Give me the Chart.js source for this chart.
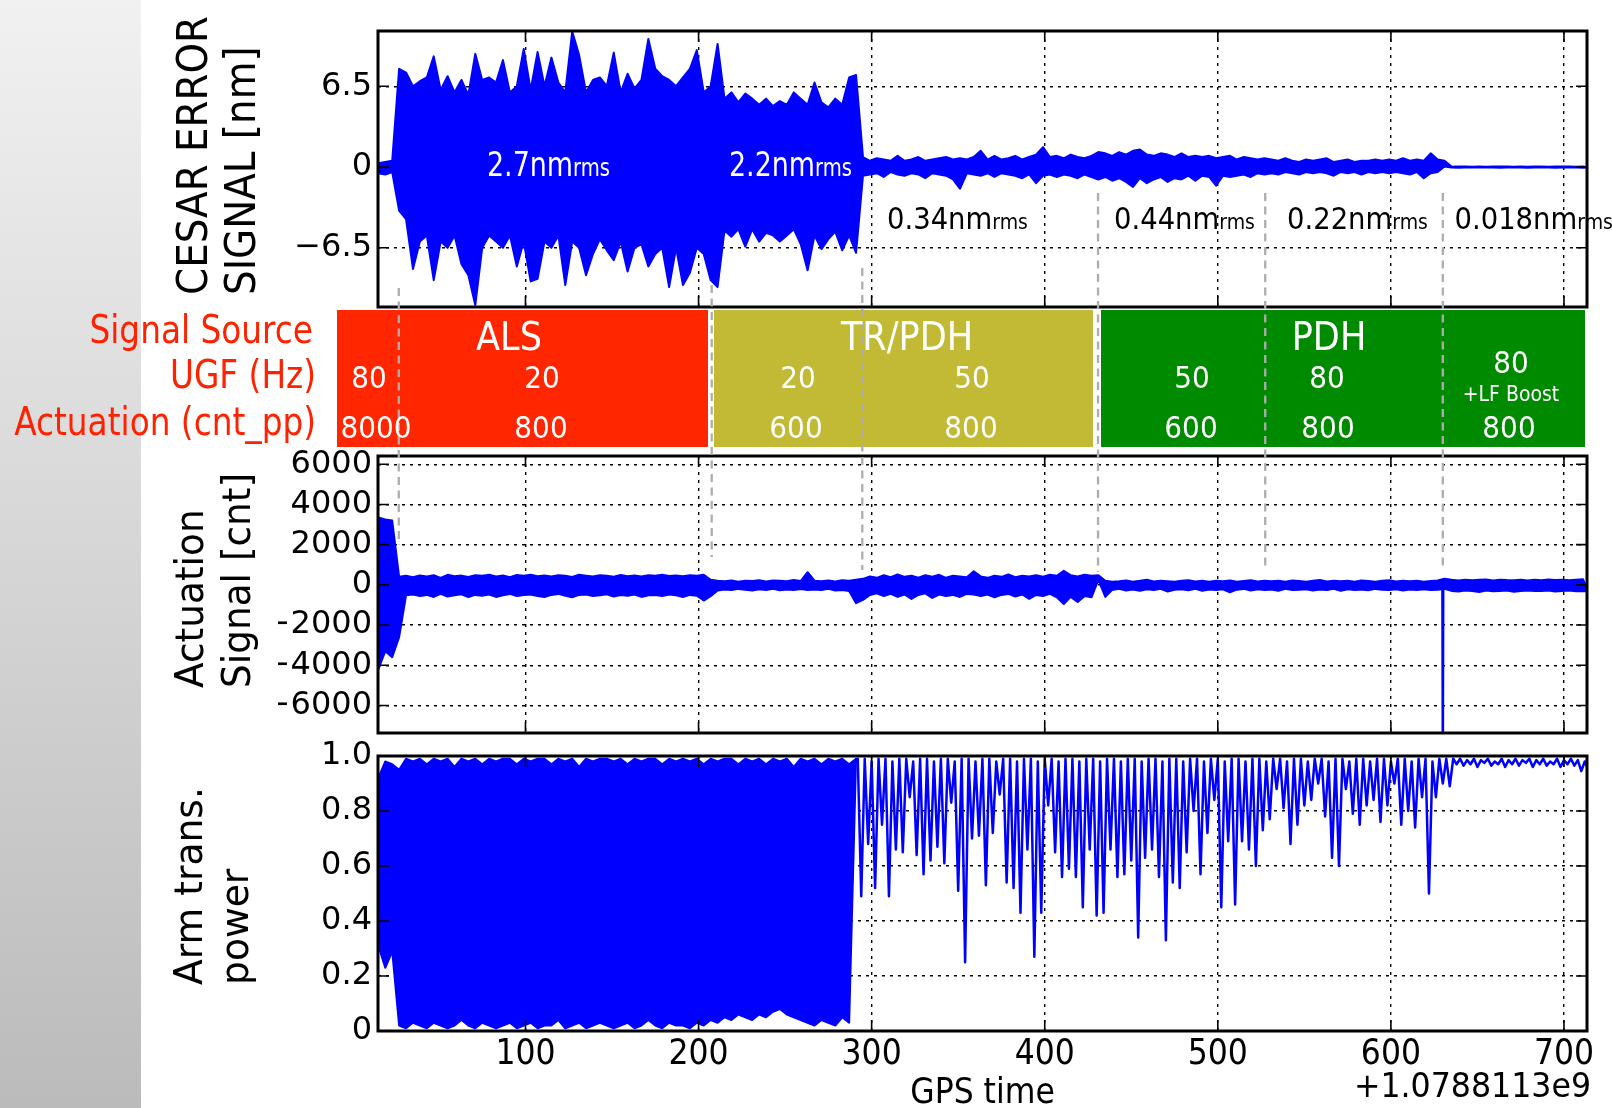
<!DOCTYPE html>
<html><head><meta charset="utf-8">
<script src="https://cdn.jsdelivr.net/npm/chart.js@4"></script>
<style>
html,body{margin:0;padding:0;background:#fff;}
#wrap{position:relative;width:1612px;height:1108px;overflow:hidden;background:#fff;}
#strip{position:absolute;left:0;top:0;width:141px;height:1108px;background:linear-gradient(#f1f1f1,#bbbbbb);}
canvas{position:absolute;left:0;top:0;}
</style></head><body>
<div id="wrap"><div id="strip"></div>
<canvas id="c1" width="1612" height="1108"></canvas>
<canvas id="c2" width="1612" height="1108"></canvas>
<canvas id="c3" width="1612" height="1108"></canvas>
<canvas id="ov" width="1612" height="1108"></canvas>
</div>
<script>
// ---------------- data (GPS time relative to 1.0788113e9, sampled every 2 s from t=14) ----------------
const T0 = 14, DT = 2;
const timeTicks = [100, 200, 300, 400, 500, 600, 700];
const errTicks = [-6.5, 0, 6.5];
const actTicks = [-6000, -4000, -2000, 0, 2000, 4000, 6000];
const powTicks = [0, 0.2, 0.4, 0.6, 0.8, 1.0];

// CESAR error signal [nm]
const errSignal = [
  0.3,-0.5,0.4,-0.6,0.5,-0.4,
  -3.5,7.9,-4.2,7.6,-8.2,6.5,-6.0,6.9,-5.5,7.2,
  -9.1,8.9,-6.0,6.2,-6.5,7.3,-5.5,6.0,-7.8,7.0,
  -8.7,5.8,-11.1,9.1,-6.5,7.0,-5.5,7.2,-6.0,6.8,
  -6.5,8.6,-5.5,6.0,-8.0,6.5,-6.0,9.5,-9.2,6.2,
  -9.0,9.25,-6.0,6.5,-6.5,8.8,-5.5,6.8,-9.5,6.0,
  -6.0,10.9,-6.5,9.0,-8.7,6.0,-7.0,7.0,-5.8,7.2,
  -6.7,6.5,-7.5,9.2,-6.0,6.0,-8.4,7.5,-6.5,6.3,
  -6.2,7.0,-8.0,10.3,-7.0,7.9,-6.5,7.3,-9.65,7.0,
  -6.5,6.5,-9.5,7.2,-8.5,7.9,-6.5,9.4,-7.0,6.0,
  -9.1,
  6.5,9.9,-9.65,5.5,-5.1,6.0,-5.6,5.2,-5.0,5.9,
  -6.4,5.5,-5.0,5.0,-6.0,5.5,-5.3,4.9,-5.5,5.3,
  -6.0,5.0,-5.5,6.0,-5.0,5.5,-6.2,5.0,-8.3,6.8,
  -5.5,5.2,-6.6,4.8,-5.8,5.5,-5.2,5.0,-6.7,7.2,
  -5.5,7.4,-6.9,
  0.8,-0.7,0.5,-0.6,0.7,-0.5,0.6,-0.8,0.5,-0.4,
  0.9,-0.6,0.5,-0.7,0.6,-0.5,0.8,-0.6,0.5,-0.9,
  0.6,-0.5,0.7,-0.6,0.8,-0.7,0.6,-1.0,0.7,-1.75,
  0.6,-0.5,0.8,-0.6,1.3,-0.7,0.6,-0.5,0.9,-0.8,
  0.6,-0.5,0.7,-0.6,0.9,-0.7,0.6,-0.9,0.8,-0.6,
  1.0,-1.3,1.6,-0.7,0.8,-0.6,0.9,-0.8,0.7,-0.6,
  1.0,-0.7,0.8,-0.9,0.7,-0.6,0.9,-0.8,1.2,
  -1.0,1.1,-0.8,0.9,-1.1,1.2,-0.9,1.0,-1.2,1.3,
  -1.6,1.4,-0.9,1.0,-1.3,0.9,-1.0,1.1,-0.8,1.0,
  -1.2,0.8,-0.9,1.1,-1.0,0.8,-0.7,0.9,-1.1,0.8,
  -0.7,0.9,-0.8,0.7,-1.5,0.8,-0.7,0.9,-0.8,0.6,
  -0.7,0.8,-0.6,0.7,-0.8,0.6,-0.5,0.7,
  -0.6,0.6,-0.5,0.5,-0.6,0.7,-0.4,0.5,-0.5,0.4,
  -0.6,0.6,-0.4,0.5,-0.5,0.6,-0.4,0.7,-0.5,0.4,
  -0.7,0.5,-0.4,0.6,-0.5,0.4,-0.4,0.5,-0.6,0.5,
  -0.4,0.6,-0.5,0.5,-0.4,0.6,-0.5,0.5,-0.4,0.7,
  -0.5,0.5,-0.6,0.6,-0.4,0.5,-0.9,1.1,-0.5,0.6,
  -0.4,0.5,
  0.04,-0.04,0.03,-0.05,0.05,-0.03,0.04,-0.04,0.03,-0.04,
  0.05,-0.04,0.03,-0.03,0.04,-0.05,0.04,-0.03,0.05,-0.04,
  0.03,-0.04,0.04,-0.05,0.03,-0.03,0.05,-0.04,0.04,-0.03,
  0.03,-0.05,0.04,-0.04,0.05,-0.03,0.04,-0.04,0.03,-0.05,
  0.04,-0.04
];

// Actuation signal [cnt]
const actSignal = [
  3350,-4200,3250,-3300,3200,-3600,-2600,
  400,-520,450,-480,380,-560,470,-500,420,-600,
  480,-450,350,-580,500,-520,430,-470,460,-610,
  390,-500,480,-540,450,-480,500,-600,420,-520,
  470,-450,380,-560,490,-510,450,-480,500,-550,
  430,-600,470,-500,420,-450,480,-540,450,-620,
  390,-500,500,-480,460,-560,420,-520,480,-470,
  450,-580,400,-500,490,-540,430,-480,470,-600,
  420,-520,480,-500,450,-560,500,-480,440,-520,
  470,-600,430,-500,480,-540,450,-780,500,-560,
  250,-280,200,-230,180,-260,220,-200,150,-240,
  210,-280,190,-220,230,-250,170,-200,220,-270,
  200,-230,180,-260,240,-210,190,630,-250,210,
  -230,180,-260,220,-200,170,-280,230,-250,200,
  -300,250,-910,
  300,-750,420,-500,350,-420,480,-560,380,-450,
  520,-600,400,-480,450,-700,360,-500,480,-420,
  400,-650,500,-480,350,-560,450,-500,420,-600,
  380,-450,-480,680,-550,420,-480,350,-620,460,
  -500,400,-450,520,-580,380,-480,450,-700,420,
  -500,480,-560,400,-450,500,-620,450,700,-950,
  480,-600,420,-850,500,-560,450,-620,480,
  250,-600,200,-250,150,-200,180,-280,220,-230,
  160,-300,200,-220,250,-260,170,-200,210,-330,
  180,-240,150,-220,200,-270,230,-200,170,-300,
  210,-230,160,-260,200,-220,180,-370,220,-240,
  150,-200,190,-280,230,-220,170,-250,200,-230,
  180,-300,210,-200,160,-260,220,-240,190,-220,
  150,-280,200,-230,240,-260,170,-200,200,-300,
  180,-220,210,-250,160,-230,220,-270,190,-200,
  150,-240,200,-260,230,-220,170,-280,210,-230,
  180,-250,200,-220,150,-260,190,-240,220,-200,
  300,-300,250,-330,220,-280,260,-300,230,-350,
  250,-280,270,-320,220,-300,260,-280,240,-340,
  230,-300,260,-280,220,-310,250,-300,230,-280,
  270,-330,240,-300,250,-280,230,-320,260,-300,
  280,-330
];
// single actuation glitch near t = 630 s
const glitchTime = [629.8, 630.0, 630.2];
const glitchAct = [-150, -7400, -150];

// Arm transmitted power (normalised)
const powSignal = [
  0.92,0.31,0.98,0.23,0.97,0.29,0.95,
  0.02,0.99,0.01,0.98,0.03,0.99,0.02,0.97,0.01,0.99,
  0.03,0.98,0.02,0.99,0.01,0.96,0.02,0.99,0.04,0.98,
  0.02,0.99,0.01,0.97,0.03,0.99,0.02,0.98,0.01,0.99,
  0.02,0.99,0.03,0.97,0.01,0.99,0.02,0.98,0.03,0.99,
  0.01,0.99,0.02,0.97,0.02,0.99,0.04,0.98,0.01,0.99,
  0.02,0.96,0.03,0.99,0.01,0.98,0.02,0.99,0.03,0.99,
  0.02,0.98,0.01,0.99,0.02,0.97,0.03,0.99,0.01,0.98,
  0.02,0.99,0.04,0.99,0.02,0.97,0.01,0.99,0.03,0.98,
  0.02,0.99,0.02,0.98,0.01,0.99,0.03,0.97,0.02,0.99,
  0.04,0.98,0.03,0.99,0.05,0.99,0.04,0.97,0.06,0.99,
  0.05,0.98,0.04,0.99,0.06,0.97,0.05,0.99,0.07,0.98,
  0.08,0.99,0.06,0.96,0.05,0.99,0.04,0.98,0.03,0.99,
  0.02,0.97,0.04,0.99,0.03,0.98,0.02,0.99,0.05,0.97,
  0.03,0.99,
  0.99,0.49,0.99,0.68,0.98,0.52,0.99,0.75,0.99,0.49,
  0.98,0.66,0.99,0.65,0.99,0.85,0.98,0.64,0.99,0.57,
  0.99,0.62,0.98,0.67,0.99,0.61,0.99,0.83,0.98,0.51,
  0.99,0.25,0.99,0.70,0.98,0.71,0.99,0.53,0.99,0.72,
  0.98,0.86,0.99,0.54,0.99,0.52,0.98,0.43,0.99,0.66,
  0.99,0.27,0.98,0.43,0.99,0.82,0.99,0.65,0.98,0.56,
  0.99,0.59,0.99,0.56,0.98,0.45,0.99,0.66,0.99,0.42,
  0.98,0.43,0.99,0.66,0.99,0.56,0.98,0.57,0.99,0.62,
  0.99,0.34,0.98,0.63,0.99,0.66,0.99,0.56,0.98,0.33,
  0.99,0.54,0.99,0.52,0.98,0.65,0.99,0.80,0.99,0.57,
  0.98,0.72,0.99,0.84,0.99,0.45,0.98,0.69,0.99,0.46,
  0.99,0.69,0.98,0.66,0.99,0.60,0.99,0.73,0.98,0.77,
  0.99,0.88,0.99,0.81,0.98,0.68,0.99,0.75,0.99,0.82,
  0.98,0.84,0.99,0.90,0.99,0.78,0.98,0.63,0.99,0.60,
  0.99,0.88,0.98,0.79,0.99,0.75,0.99,0.82,0.98,0.84,
  0.99,0.76,0.99,0.82,0.98,0.90,0.99,0.75,0.99,0.80,
  0.98,0.74,0.99,0.85,0.99,0.50,0.98,0.85,0.99,0.90,
  0.99,0.89,0.99,
  0.97,0.99,0.965,0.985,0.97,0.99,0.96,0.985,0.975,0.99,
  0.965,0.98,0.97,0.99,0.96,0.985,0.97,0.99,0.965,0.985,
  0.975,0.99,0.96,0.985,0.97,0.99,0.965,0.98,0.97,0.99,
  0.96,0.985,0.97,0.99,0.965,0.985,0.945,0.98,0.95
];
// index (in the 2 s sampling) where the arm locks and power stops swinging 0..1
const powLockIndex = 139;

// lock phase boundaries (s) and annotation texts
const phaseTimes = [26.8, 207.6, 294.6, 430.8, 527.4, 630.0];
const rmsLabels = ['2.7nm', '2.2nm', '0.34nm', '0.44nm', '0.22nm', '0.018nm'];
const rowLabels = ['Signal Source', 'UGF (Hz)', 'Actuation (cnt_pp)'];
const sourceNames = ['ALS', 'TR/PDH', 'PDH'];
const ugfValues = ['80', '20', '20', '50', '50', '80', '80'];
const actuationValues = ['8000', '800', '600', '800', '600', '800', '800'];

// ---------------- layout ----------------
const W = 1612, H = 1108;
const LEFT = 378, RIGHT = 1587, YAXW = 100;
const X_MIN = 14.8, X_MAX = 713.3;
const COND = "'DejaVu Sans Condensed', 'DejaVu Sans', sans-serif";
const BLUE = '#0000ff';

const pts = (vals, s, e) => vals.slice(s, e).map((v, i) => ({x: T0 + DT * (i + s), y: v}));
// per-4 s min/max envelope of the sampled values (dense noise is drawn as a filled band)
function envelope(vals, s, e) {
  const up = [], lo = [];
  for (let i = s; i < e; i += 2) {
    const has2 = i + 1 < e;
    const a = vals[i], b = has2 ? vals[i + 1] : vals[i];
    const t = T0 + DT * (has2 ? i + 0.5 : i);
    up.push({x: t, y: Math.max(a, b)});
    lo.push({x: t, y: Math.min(a, b)});
  }
  return {up, lo};
}
const minus = s => s.replace('-', '\u2212');

const framePlugin = {
  id: 'frame',
  afterDraw(chart) {
    const {ctx, chartArea: a, scales: {x, y}} = chart;
    ctx.save();
    ctx.strokeStyle = '#000';
    ctx.lineWidth = 1.6;
    ctx.setLineDash([]);
    ctx.beginPath();
    x.ticks.forEach(t => {
      const px = x.getPixelForValue(t.value);
      ctx.moveTo(px, a.bottom); ctx.lineTo(px, a.bottom - 11);
      ctx.moveTo(px, a.top); ctx.lineTo(px, a.top + 11);
    });
    y.ticks.forEach(t => {
      const py = y.getPixelForValue(t.value);
      ctx.moveTo(a.left, py); ctx.lineTo(a.left + 11, py);
      ctx.moveTo(a.right, py); ctx.lineTo(a.right - 11, py);
    });
    ctx.stroke();
    ctx.lineWidth = 3;
    ctx.strokeRect(a.left, a.top, a.right - a.left, a.bottom - a.top);
    ctx.restore();
  }
};

function makeChart(id, datasets, area, yMin, yMax, yTicks, fmt, showX) {
  const xh = showX ? (H - area.bottom) : 0;
  return new Chart(document.getElementById(id), {
    type: 'line',
    data: {datasets},
    options: {
      responsive: false, animation: false, devicePixelRatio: 1, events: [],
      layout: {padding: {left: LEFT - YAXW, right: W - RIGHT, top: area.top, bottom: H - area.bottom - xh}},
      plugins: {legend: {display: false}, tooltip: {enabled: false}},
      elements: {point: {radius: 0}, line: {tension: 0}},
      scales: {
        x: {
          type: 'linear', min: X_MIN, max: X_MAX,
          afterBuildTicks: s => { s.ticks = timeTicks.map(v => ({value: v})); },
          afterFit: s => { s.height = xh; },
          grid: {color: '#000', lineWidth: 1.4, drawTicks: false},
          border: {display: false, dash: [3, 5]},
          ticks: {display: showX, color: '#000', font: {family: COND, size: 35}, padding: 3, maxRotation: 0, autoSkip: false},
          title: {display: showX, text: 'GPS time', color: '#000', font: {family: COND, size: 35, lineHeight: 0.8}, padding: {top: 0, bottom: 0}}
        },
        y: {
          min: yMin, max: yMax,
          afterBuildTicks: s => { s.ticks = yTicks.map(v => ({value: v})); },
          afterFit: s => { s.width = YAXW; },
          grid: {color: '#000', lineWidth: 1.4, drawTicks: false},
          border: {display: false, dash: [3, 5]},
          ticks: {color: '#000', font: {family: 'DejaVu Sans', size: 32}, padding: 6, callback: fmt, autoSkip: false}
        }
      }
    },
    plugins: [framePlugin]
  });
}

const base = {borderColor: BLUE, pointRadius: 0, borderJoinStyle: 'round', borderCapStyle: 'round'};
const bandDs = env => [
  Object.assign({data: env.up, borderWidth: 2, fill: false}, base),
  Object.assign({data: env.lo, borderWidth: 2, fill: '-1', backgroundColor: BLUE}, base)
];
const lineDs = (data, w) => Object.assign({data, borderWidth: w, fill: false}, base);

const chart1 = makeChart('c1', bandDs(envelope(errSignal, 0, errSignal.length)), {top: 31, bottom: 307},
  -11.26, 10.94, errTicks, v => v === 0 ? '0' : minus(String(v)), false);

const chart2 = makeChart('c2', [
    ...bandDs(envelope(actSignal, 0, actSignal.length)),
    lineDs(glitchTime.map((t, i) => ({x: t, y: glitchAct[i]})), 2.6)
  ], {top: 456, bottom: 733},
  -7371, 6412, actTicks, v => v === 0 ? '0' : minus(String(v)), false);

const chart3 = makeChart('c3', [
    ...bandDs(envelope(powSignal, 0, powLockIndex + 1)),
    lineDs(pts(powSignal, powLockIndex, powSignal.length), 2.5)
  ], {top: 756, bottom: 1031},
  0, 1.0, powTicks, v => v === 0 ? '0' : v.toFixed(1), true);

// ---------------- overlay: band, annotations, titles ----------------
const ov = document.getElementById('ov').getContext('2d');
function text(s, x, y, o) {
  ov.save();
  ov.translate(x, y);
  if (o.rot) ov.rotate(o.rot);
  ov.scale(o.sx || 1, 1);
  ov.font = `${o.size}px 'DejaVu Sans'`;
  ov.fillStyle = o.color || '#000';
  ov.textAlign = o.align || 'center';
  ov.textBaseline = 'alphabetic';
  ov.fillText(s, 0, 0);
  ov.restore();
}
function rmsText(s, x, y, size, sub, sx, color) {
  ov.save();
  ov.translate(x, y); ov.scale(sx, 1);
  ov.fillStyle = color; ov.textAlign = 'left'; ov.textBaseline = 'alphabetic';
  ov.font = `${size}px 'DejaVu Sans'`;
  ov.fillText(s, 0, 0);
  const w = ov.measureText(s).width;
  ov.font = `${sub}px 'DejaVu Sans'`;
  ov.fillText('rms', w, 0);
  ov.restore();
}

// band
const BT = 310, BB = 447;
ov.fillStyle = '#ff2600'; ov.fillRect(337, BT, 371, BB - BT);
ov.fillStyle = '#c2b934'; ov.fillRect(714, BT, 379, BB - BT);
ov.fillStyle = '#008a00'; ov.fillRect(1101, BT, 484, BB - BT);

// phase boundary dashed lines
const xs = chart1.scales.x;
const lineTop = [288, 285, 268, 193, 193, 193];
const lineBot = [545, 557, 570, 572, 568, 568];
ov.save();
ov.strokeStyle = '#adadad'; ov.lineWidth = 2.3; ov.setLineDash([8, 5.5]);
phaseTimes.forEach((t, i) => {
  const px = xs.getPixelForValue(t);
  ov.beginPath(); ov.moveTo(px, lineTop[i]); ov.lineTo(px, lineBot[i]); ov.stroke();
});
ov.restore();

// band texts
const wf = {color: '#fff', sx: 0.9};
text(sourceNames[0], 509, 350, Object.assign({size: 39}, wf));
text(sourceNames[1], 907, 350, Object.assign({size: 39}, wf));
text(sourceNames[2], 1329, 350, Object.assign({size: 39}, wf));
const ugfX = [369, 542, 798, 972, 1192, 1327];
ugfX.forEach((x, i) => text(ugfValues[i], x, 387.7, Object.assign({size: 31}, wf)));
text(ugfValues[6], 1511, 373.3, Object.assign({size: 31}, wf));
text('+LF Boost', 1511, 401, {size: 20.5, color: '#fff', sx: 0.92});
const actX = [376, 541, 796, 971, 1191, 1328, 1509];
actX.forEach((x, i) => text(actuationValues[i], x, 438.3, Object.assign({size: 31}, wf)));

// row labels (left, red)
const red = '#ff2200';
text(rowLabels[0], 313, 343, {size: 39, color: red, align: 'right', sx: 0.84});
text(rowLabels[1], 316, 388, {size: 39, color: red, align: 'right', sx: 0.84});
text(rowLabels[2], 316, 435, {size: 39, color: red, align: 'right', sx: 0.84});

// rms annotations
rmsText(rmsLabels[0], 487, 176, 33, 24, 0.815, '#fff');
rmsText(rmsLabels[1], 729, 176, 33, 24, 0.815, '#fff');
rmsText(rmsLabels[2], 887, 228.5, 30.5, 21, 0.9, '#000');
rmsText(rmsLabels[3], 1114, 228.5, 30.5, 21, 0.9, '#000');
rmsText(rmsLabels[4], 1287, 228.5, 30.5, 21, 0.9, '#000');
rmsText(rmsLabels[5], 1454.5, 228.5, 30.5, 21, 0.9, '#000');

// y axis titles (rotated, bottom aligned)
const R = -Math.PI / 2;
text('CESAR ERROR', 207.4, 295, {size: 42, rot: R, align: 'left', sx: 0.925});
text('SIGNAL [nm]', 255, 295, {size: 42, rot: R, align: 'left', sx: 0.925});
text('Actuation', 203, 688, {size: 39, rot: R, align: 'left', sx: 0.96});
text('Signal [cnt]', 250, 688, {size: 39, rot: R, align: 'left', sx: 0.96});
text('Arm trans.', 201.5, 985, {size: 39, rot: R, align: 'left', sx: 0.965});
text('power', 248, 985, {size: 39, rot: R, align: 'left', sx: 0.965});

// axis offset text
text('+1.0788113e9', 1591, 1097, {size: 34, align: 'right', sx: 0.93});
</script>
</body></html>
